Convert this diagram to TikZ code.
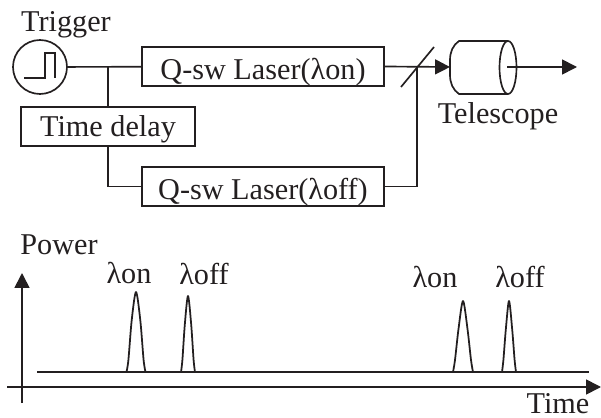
\documentclass[tikz,border=0pt]{standalone}
\usepackage{fontspec}
\setmainfont{Liberation Serif}
\usetikzlibrary{arrows.meta}
\definecolor{inkblack}{rgb}{0.137,0.122,0.125}

\begin{document}
\begin{tikzpicture}
  [x=0.02cm,y=-0.02cm,line width=0.95pt,draw=inkblack,text=inkblack,
   every node/.style={font=\fontsize{17.2}{20}\selectfont,inner sep=0pt},
   label/.style={anchor=base},
   laserbox/.style={draw,minimum width=242*0.02cm,minimum height=39*0.02cm,text height=18pt,text depth=3pt},
   delaybox/.style={draw,minimum width=174*0.02cm,minimum height=39*0.02cm,text height=14.3pt,text depth=3pt},
   flow/.style={-{Triangle[length=8.5pt,width=8.5pt]}},
   trace/.style={line width=1pt,line join=round}]

  \useasboundingbox (0,0) rectangle (601,418);

  \node[label] (ttrigger) at (66,32) {Trigger};
  \node[draw,circle,minimum size=54*0.02cm] (trigger) at (40,67) {};
  \node[laserbox] (laseron) at (263,66.5) {Q-sw Laser(λon)};
  \node[delaybox] (delay) at (108,126.5) {Time delay};
  \node[laserbox] (laseroff) at (263,186.5) {Q-sw Laser(λoff)};
  \node[label] (ttelescope) at (498,124) {Telescope};

  \coordinate (telin) at (450,67);
  \coordinate (telout) at (507,67);
  \coordinate (beam) at (577,67);
  \coordinate (mirlow) at (401,87);
  \coordinate (mirup) at (434,47);
  \coordinate (mirmid) at (417,67);

  % trigger pulse
  \draw (24,78) -- (45,78) -- (45,53) -- (55,53) -- (55,78);

  \draw (trigger) -- (laseron);
  \draw (delay.north) -- (delay.north |- laseron.west);
  \draw (delay.south) |- (laseroff.west);
  \draw (laseroff.east) -| (mirmid);
  \draw (mirlow) -- (mirup);
  \draw[flow] (laseron.east) -- (telin);
  \draw[flow] (telout) -- (beam);

  % telescope
  \draw (508,41) -- (459,41) .. controls (453,45) and (450,52) .. (450,60) -- (450,75)
    .. controls (450,83) and (453,90) .. (459,94) -- (508,94);
  \draw (508,67.5) ellipse [x radius=8.5,y radius=26.5];

  % power plot
  \node[label] (tpower) at (59,255) {Power};
  \node[label] (ton1) at (129,283) {λon};
  \node[label] (toff1) at (204,284) {λoff};
  \node[label] (ton2) at (435,287) {λon};
  \node[label] (toff2) at (520,287) {λoff};
  \node[label] (ttime) at (558,413) {Time};

  \coordinate (xstart) at (7,387);
  \coordinate (xend) at (601,387);
  \coordinate (ystart) at (22,403);
  \coordinate (yend) at (22,273);
  \draw[flow] (xstart) -- (xend);
  \draw[flow] (ystart) -- (yend);

  \draw[trace] (37,372) -- (589,372);
  \foreach \pk/\tp/\hw in {136/292/9.5,188/296/7,463/301/10,509/301/7}
    \draw[trace] plot[smooth,tension=0.5] coordinates
      {({\pk-\hw},372) ({\pk-0.8*\hw},360) ({\pk-0.45*\hw},{\tp+28}) (\pk,\tp)
       ({\pk+0.45*\hw},{\tp+28}) ({\pk+0.8*\hw},360) ({\pk+\hw},372)};
\end{tikzpicture}
\end{document}
